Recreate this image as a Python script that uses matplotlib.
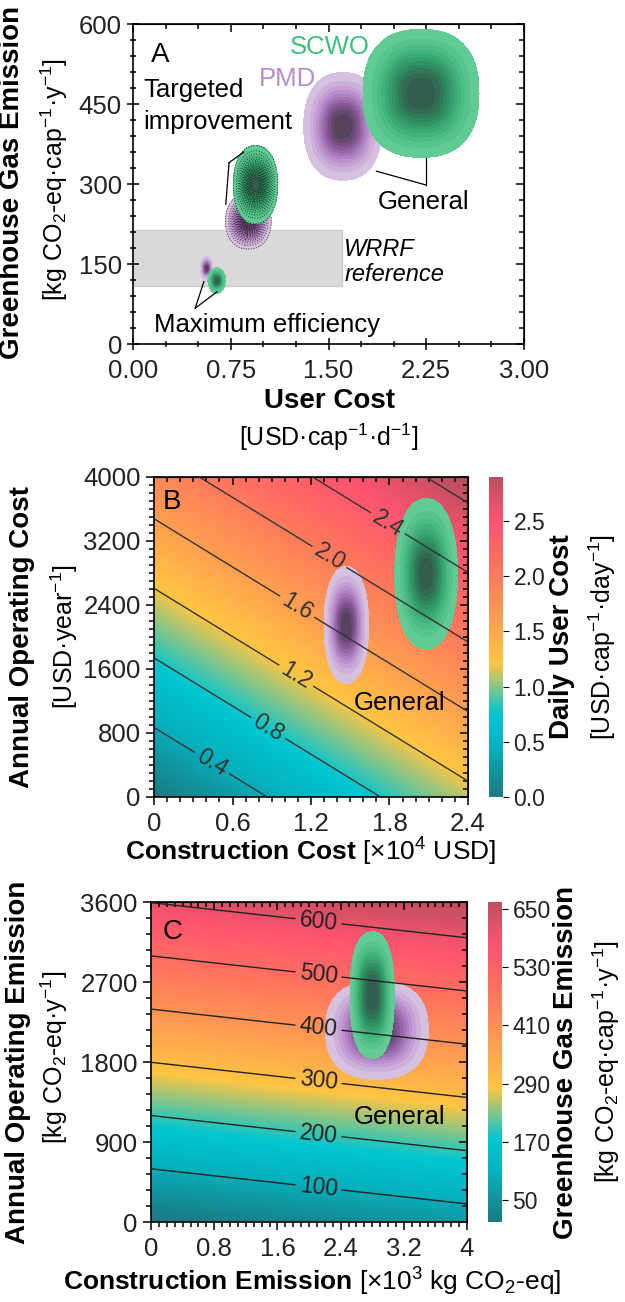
import numpy as np
import matplotlib
matplotlib.use('Agg')
import matplotlib.pyplot as plt
from matplotlib.colors import LinearSegmentedColormap, Normalize
from matplotlib.patches import Rectangle
from matplotlib.ticker import MultipleLocator

plt.rcParams['font.family'] = ['Liberation Sans', 'DejaVu Sans']
plt.rcParams['mathtext.fontset'] = 'custom'
plt.rcParams['mathtext.rm'] = 'Liberation Sans'
plt.rcParams['mathtext.it'] = 'Liberation Sans:italic'
plt.rcParams['mathtext.bf'] = 'Liberation Sans:bold'

# ---------------- data ----------------
# panel A: uncertainty clouds, centre and half-extent of the outer contour
a_system = ['PMD', 'SCWO', 'PMD', 'SCWO', 'PMD', 'SCWO']
a_cost_c = [1.61, 2.21, 0.885, 0.94, 0.565, 0.643]
a_ghg_c = [408, 470, 230, 299, 142, 119]
a_cost_hw = [0.30, 0.445, 0.175, 0.17, 0.05, 0.068]
a_ghg_hw = [101, 120, 52, 73, 22, 24]
a_shape = [2.3, 2.4, 2.2, 2.2, 2.0, 2.0]
a_dotted = [False, False, True, True, False, False]
wrrf_cost = [0.0, 1.60]
wrrf_ghg = [109, 214]

# panel B: daily user cost surface = k_con * construction + k_op * operating
k_con = 0.462      # USD/cap/day per 1e4 USD
k_op = 4.6e-4      # USD/cap/day per USD/yr
b_levels = [0.4, 0.8, 1.2, 1.6, 2.0, 2.4, 2.8]
b_label_pos = [(0.44, 421), (0.88, 879), (1.09, 1525), (1.11, 2421), (1.35, 3025), (1.81, 3483)]
b_system = ['PMD', 'SCWO']
b_con_c = [1.47, 2.08]
b_op_c = [2150, 2790]
b_con_hw = [0.17, 0.24]
b_op_hw = [730, 940]
b_cticks = [0.0, 0.5, 1.0, 1.5, 2.0, 2.5]

# panel C: GHG surface = e_con * construction + e_op * operating
e_con = 16.5       # kg/cap/yr per 1e3 kg construction
e_op = 0.167       # kg/cap/yr per kg/yr operating
c_levels = [100, 200, 300, 400, 500, 600]
c_system = ['PMD', 'SCWO']
c_con_c = [2.86, 2.80]
c_op_c = [2160, 2554]
c_con_hw = [0.65, 0.28]
c_op_hw = [553, 712]
c_cticks = [50, 170, 290, 410, 530, 650]

# ---------------- styles ----------------
grad = LinearSegmentedColormap.from_list('grad', [
    (0.0, '#1b7a82'), (0.16, '#06b2bf'), (0.26, '#00c6d2'),
    (0.42, '#ffc542'), (0.56, '#ff9d52'), (0.72, '#ff745e'),
    (0.86, '#ff5470'), (1.0, '#bf4f5f')])
cmaps = {
    'SCWO': LinearSegmentedColormap.from_list('g', ['#66cf98', '#40b27a', '#2d8a5e', '#34564a']),
    'PMD': LinearSegmentedColormap.from_list('p', ['#dac8e3', '#b98ccb', '#8a5a9c', '#4e3e52']),
}
lev = np.linspace(0.05, 1.0, 12)
FS = 18.5


def cloud(ax, cx, cy, hx, hy, system, p=2.0, dotted=False, z=3):
    # outer contour (level 0.05) sits at the read half-extent
    r0 = 6.0 ** (1.0 / p)
    x = np.linspace(cx - 1.3 * hx, cx + 1.3 * hx, 240)
    y = np.linspace(cy - 1.3 * hy, cy + 1.3 * hy, 240)
    X, Y = np.meshgrid(x, y)
    Z = np.exp(-0.5 * (np.abs((X - cx) / hx * r0) ** p + np.abs((Y - cy) / hy * r0) ** p))
    ax.contourf(X, Y, Z, levels=lev, cmap=cmaps[system], zorder=z)
    if dotted:
        ax.contour(X, Y, Z, levels=np.linspace(0.05, 1.0, 16), colors='k',
                   linestyles=':', linewidths=0.7, alpha=0.7, zorder=z + 0.1)


def ticks(ax, xmaj, xmin, ymaj, ymin, direction='out'):
    ax.xaxis.set_major_locator(MultipleLocator(xmaj))
    ax.xaxis.set_minor_locator(MultipleLocator(xmin))
    ax.yaxis.set_major_locator(MultipleLocator(ymaj))
    ax.yaxis.set_minor_locator(MultipleLocator(ymin))
    ax.tick_params(which='both', direction=direction, labelsize=FS, labelcolor='#222222', width=1.1)
    ax.tick_params(which='major', length=6 if direction == 'out' else 8)
    ax.tick_params(which='minor', length=3.5 if direction == 'out' else 5)
    ax.tick_params(axis='x', pad=4.5)
    top = ax.secondary_xaxis('top')
    top.xaxis.set_major_locator(MultipleLocator(xmaj))
    top.xaxis.set_minor_locator(MultipleLocator(xmin))
    top.tick_params(which='both', direction='in', labeltop=False, width=1.1)
    top.tick_params(which='major', length=6)
    top.tick_params(which='minor', length=3.5)
    right = ax.secondary_yaxis('right')
    right.yaxis.set_major_locator(MultipleLocator(ymaj))
    right.yaxis.set_minor_locator(MultipleLocator(ymin))
    right.tick_params(which='both', direction='in', labelright=False, width=1.1)
    right.tick_params(which='major', length=6)
    right.tick_params(which='minor', length=3.5)
    for s in ax.spines.values():
        s.set_linewidth(1.2)


W, H = 625, 1302
fig = plt.figure(figsize=(W / 100, H / 100), dpi=100)


def px(l, t, r, b):
    return [l / W, 1 - b / H, (r - l) / W, (b - t) / H]


def ftext(x, y, s, **kw):
    fig.text(x / W, 1 - y / H, s, ha='center', va='center', **kw)


# ---------------- panel A ----------------
axA = fig.add_axes(px(133, 24, 524, 344))
axA.add_patch(Rectangle((wrrf_cost[0], wrrf_ghg[0]), wrrf_cost[1] - wrrf_cost[0],
                        wrrf_ghg[1] - wrrf_ghg[0], facecolor='#d9d9d9',
                        edgecolor='#cccccc', lw=1, zorder=1))
for i in range(len(a_system)):
    cloud(axA, a_cost_c[i], a_ghg_c[i], a_cost_hw[i], a_ghg_hw[i], a_system[i],
          p=a_shape[i], dotted=a_dotted[i], z=3 + i)
axA.set_xlim(0, 3)
axA.set_ylim(0, 600)
ticks(axA, 0.75, 0.25, 150, 30, direction='inout')
axA.tick_params(axis='x', pad=7)
axA.tick_params(axis='y', pad=4)
axA.xaxis.set_major_formatter('{x:.2f}')

afs = 18.5
axA.text(0.14, 542, 'A', fontsize=20, va='center', ha='left')
axA.text(1.205, 556, 'SCWO', fontsize=afs, color='#3cc07c', va='center', ha='left')
axA.text(0.967, 496, 'PMD', fontsize=afs, color='#b68ccb', va='center', ha='left')
axA.text(0.08, 476, 'Targeted', fontsize=afs, va='center', ha='left')
axA.text(0.08, 416, 'improvement', fontsize=afs, va='center', ha='left')
axA.text(1.88, 267, 'General', fontsize=afs, va='center', ha='left')
axA.text(1.62, 154, 'WRRF\nreference', fontsize=17, style='italic', va='center', ha='left', linespacing=1.15)
axA.text(0.16, 36, 'Maximum efficiency', fontsize=afs, va='center', ha='left')
for (jx, jy), ends in [((0.737, 340), [(0.85, 360), (0.712, 262)]),
                       ((2.25, 298), [(2.25, 348), (1.868, 324)]),
                       ((0.477, 67), [(0.544, 117), (0.645, 98)])]:
    for ex, ey in ends:
        axA.plot([jx, ex], [jy, ey], color='k', lw=0.9, zorder=20)

ftext(12, 182, 'Greenhouse Gas Emission', fontsize=20, fontweight='bold', rotation=90)
ftext(54, 180, r'[kg CO$_2$-eq·cap$^{-1}$·y$^{-1}$]', fontsize=18, rotation=90)
ftext(329, 401, 'User Cost', fontsize=20, fontweight='bold')
ftext(329, 437, r'[USD·cap$^{-1}$·d$^{-1}$]', fontsize=18)

# ---------------- panel B ----------------
axB = fig.add_axes(px(154, 477, 468, 797))
xb = np.linspace(0, 2.4, 300)
yb = np.linspace(0, 4000, 300)
XB, YB = np.meshgrid(xb, yb)
ZB = k_con * XB + k_op * YB
normB = Normalize(0, 2.9)
imB = axB.imshow(ZB, origin='lower', extent=[0, 2.4, 0, 4000], aspect='auto',
                 cmap=grad, norm=normB, zorder=0)
for i in range(len(b_system)):
    cloud(axB, b_con_c[i], b_op_c[i], b_con_hw[i], b_op_hw[i], b_system[i], p=2.2, z=3 + i)
csB = axB.contour(XB, YB, ZB, levels=b_levels, colors='#333333', linewidths=1.0, zorder=10)
lbB = axB.clabel(csB, fmt='%.1f', fontsize=16.5, manual=b_label_pos, inline=True, inline_spacing=4)
for t in lbB:
    t.set_zorder(11)
axB.set_xlim(0, 2.4)
axB.set_ylim(0, 4000)
ticks(axB, 0.6, 0.1, 800, 100)
axB.xaxis.set_major_formatter(lambda v, p: '0' if v == 0 else f'{v:.1f}')
axB.text(0.07, 3690, 'B', fontsize=20, va='center', ha='left', zorder=12)
axB.text(1.53, 1175, 'General', fontsize=afs, va='center', ha='left', zorder=12)

caxB = fig.add_axes(px(489, 477, 503, 797))
cbB = fig.colorbar(imB, cax=caxB)
cbB.set_ticks(b_cticks)
cbB.ax.yaxis.set_major_formatter('{x:.1f}')
cbB.outline.set_visible(False)
cbB.ax.tick_params(labelsize=16.5, length=4, labelcolor='#222222')

ftext(22, 637, 'Annual Operating Cost', fontsize=20, fontweight='bold', rotation=90)
ftext(64, 637, r'[USD·year$^{-1}$]', fontsize=18, rotation=90)
fig.text(311 / W, 1 - 852 / H,
         r'$\mathbf{Construction\ Cost}$ [×10$^4$ USD]', fontsize=19, ha='center', va='center')
ftext(562, 637, 'Daily User Cost', fontsize=20, fontweight='bold', rotation=90)
ftext(602, 637, r'[USD·cap$^{-1}$·day$^{-1}$]', fontsize=18, rotation=90)

# ---------------- panel C ----------------
axC = fig.add_axes(px(151, 902, 467, 1222))
xc = np.linspace(0, 4, 300)
yc = np.linspace(0, 3600, 300)
XC, YC = np.meshgrid(xc, yc)
ZC = e_con * XC + e_op * YC
normC = Normalize(5, 664)
imC = axC.imshow(ZC, origin='lower', extent=[0, 4, 0, 3600], aspect='auto',
                 cmap=grad, norm=normC, zorder=0)
for i in range(len(c_system)):
    cloud(axC, c_con_c[i], c_op_c[i], c_con_hw[i], c_op_hw[i], c_system[i], p=2.4, z=3 + i)
csC = axC.contour(XC, YC, ZC, levels=c_levels, colors='#222222', linewidths=1.0, zorder=10)
c_label_pos = [(2.12, (lv - e_con * 2.12) / e_op) for lv in c_levels]
lbC = axC.clabel(csC, fmt='%d', fontsize=16.5, manual=c_label_pos, inline=True, inline_spacing=4)
for t in lbC:
    t.set_zorder(11)
axC.set_xlim(0, 4)
axC.set_ylim(0, 3600)
ticks(axC, 0.8, 0.1, 900, 180)
axC.xaxis.set_major_formatter(lambda v, p: f'{v:g}')
axC.text(0.15, 3266, 'C', fontsize=20, va='center', ha='left', zorder=12)
axC.text(2.57, 1185, 'General', fontsize=afs, va='center', ha='left', zorder=12)

caxC = fig.add_axes(px(488, 902, 502, 1222))
cbC = fig.colorbar(imC, cax=caxC)
cbC.set_ticks(c_cticks)
cbC.outline.set_visible(False)
cbC.ax.tick_params(labelsize=16.5, length=4, labelcolor='#222222')

ftext(18, 1062, 'Annual Operating Emission', fontsize=20, fontweight='bold', rotation=90)
ftext(54, 1057, r'[kg CO$_2$-eq·y$^{-1}$]', fontsize=18, rotation=90)
fig.text(312 / W, 1 - 1282 / H,
         r'$\mathbf{Construction\ Emission}$ [×10$^3$ kg CO$_2$-eq]', fontsize=19,
         ha='center', va='center')
ftext(566, 1062, 'Greenhouse Gas Emission', fontsize=20, fontweight='bold', rotation=90)
ftext(606, 1062, r'[kg CO$_2$-eq·cap$^{-1}$·y$^{-1}$]', fontsize=18, rotation=90)

fig.savefig('out.png', dpi=100)
